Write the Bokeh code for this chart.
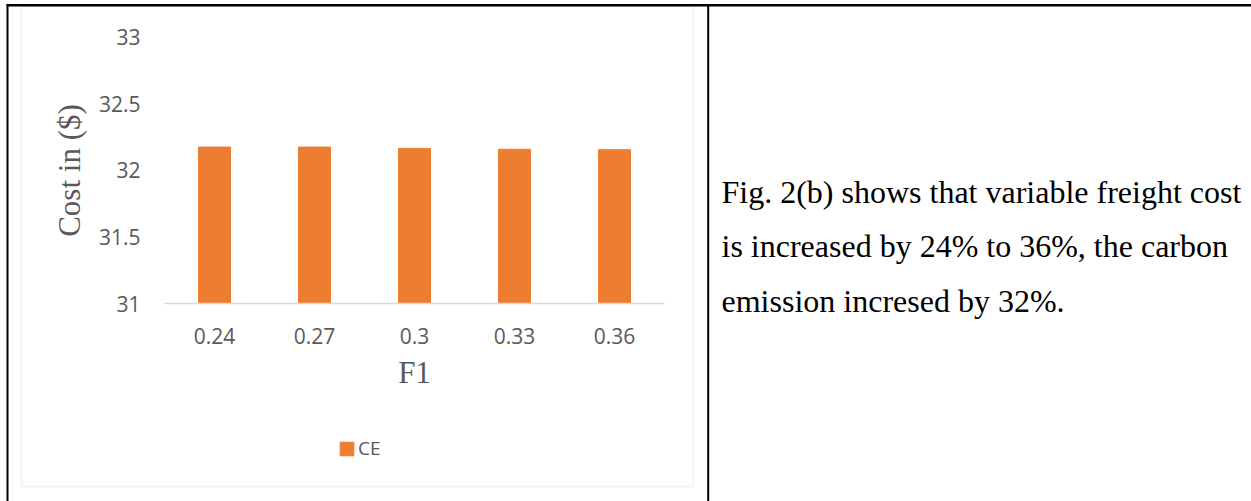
from bokeh.plotting import figure
from bokeh.models import (Range1d, FixedTicker, LinearScale, Legend, LegendItem, Label,
                          BoxAnnotation, ColumnDataSource)
from bokeh.embed import file_html
from bokeh.resources import INLINE

# ---- data ----
categories = ["0.24", "0.27", "0.3", "0.33", "0.36"]
ce_values = [32.175, 32.175, 32.165, 32.158, 32.155]
y_ticks = [31, 31.5, 32, 32.5, 33]
y_tick_labels = ["31", "31.5", "32", "32.5", "33"]
series_name = "CE"
x_title = "F1"
y_title = "Cost in ($)"
text_lines = [
    "Fig. 2(b) shows that variable freight cost",
    "is increased by 24% to 36%, the carbon",
    "emission incresed by 32%.",
]

# ---- layout constants (page pixels) ----
W, H = 1251, 501
PL, PR, PT, PB = 164.0, 664.0, 36.7, 303.0     # plot area on the page
N = len(categories)
y_lo, y_hi = y_ticks[0], y_ticks[-1]
x_per_px = N / (PR - PL)
y_per_px = (y_hi - y_lo) / (PB - PT)

x_pos = [i + 0.5 for i in range(N)]            # category centres

GRAY_TXT = "#595959"
ORANGE = "#ED7D31"

p = figure(width=W, height=H,
           x_range=Range1d(0 - PL * x_per_px, N + (W - PR) * x_per_px),
           y_range=Range1d(y_lo - (H - PB) * y_per_px, y_hi + PT * y_per_px),
           output_backend="svg", toolbar_location=None, min_border=0)
p.extra_x_ranges = {"px": Range1d(0, W)}
p.extra_x_scales = {"px": LinearScale()}
p.extra_y_ranges = {"py": Range1d(H, 0)}
p.extra_y_scales = {"py": LinearScale()}
p.outline_line_color = None
p.background_fill_color = "white"
p.border_fill_color = "white"
p.xgrid.visible = False
p.ygrid.visible = False

src = ColumnDataSource(dict(x=x_pos, top=ce_values, label=categories))
r = p.vbar(x="x", top="top", bottom=y_lo, width=0.32, source=src,
           fill_color=ORANGE, line_color=ORANGE)

# y axis (fixed at the left edge of the plot area)
p.yaxis.fixed_location = 0
p.yaxis.bounds = (y_lo, y_hi)
p.yaxis.ticker = FixedTicker(ticks=y_ticks)
p.yaxis.major_label_overrides = {t: l for t, l in zip(y_ticks, y_tick_labels)}
p.yaxis.axis_line_color = None
p.yaxis.major_tick_in = 0
p.yaxis.major_tick_out = 0
p.yaxis.minor_tick_in = 0
p.yaxis.minor_tick_out = 0
p.yaxis.major_label_standoff = 24
p.yaxis.major_label_text_font = "Open Sans"
p.yaxis.major_label_text_font_size = "21px"
p.yaxis.major_label_text_color = GRAY_TXT
p.yaxis.axis_label = y_title
p.yaxis.axis_label_text_font = "Liberation Serif"
p.yaxis.axis_label_text_font_size = "31px"
p.yaxis.axis_label_text_font_style = "normal"
p.yaxis.axis_label_text_color = GRAY_TXT
p.yaxis.axis_label_standoff = 9

# x axis (fixed at the baseline)
p.xaxis.fixed_location = y_lo
p.xaxis.bounds = (0, N)
p.xaxis.ticker = FixedTicker(ticks=x_pos)
p.xaxis.major_label_overrides = {t: l for t, l in zip(x_pos, categories)}
p.xaxis.axis_line_color = "#D9D9D9"
p.xaxis.axis_line_width = 1.5
p.xaxis.major_tick_in = 0
p.xaxis.major_tick_out = 0
p.xaxis.minor_tick_in = 0
p.xaxis.minor_tick_out = 0
p.xaxis.major_label_standoff = 24
p.xaxis.major_label_text_font = "Open Sans"
p.xaxis.major_label_text_font_size = "21px"
p.xaxis.major_label_text_color = GRAY_TXT
p.xaxis.axis_label = x_title
p.xaxis.axis_label_text_font = "Liberation Serif"
p.xaxis.axis_label_text_font_size = "31px"
p.xaxis.axis_label_text_font_style = "normal"
p.xaxis.axis_label_text_color = GRAY_TXT
p.xaxis.axis_label_standoff = 8

# legend
legend = Legend(items=[LegendItem(label=series_name, renderers=[r])],
                location=(338, 40), orientation="horizontal",
                glyph_width=17, glyph_height=17, label_standoff=3, label_height=17,
                padding=0, margin=0, border_line_color=None, background_fill_alpha=0,
                label_text_font="Open Sans", label_text_font_size="19px",
                label_text_color=GRAY_TXT)
p.add_layout(legend)

# chart frame (light gray)
p.add_layout(BoxAnnotation(left=21, right=693, top=6, bottom=486,
                           x_range_name="px", y_range_name="py",
                           fill_alpha=0, line_color="#D9D9D9", line_width=2, level="underlay"))

# table borders
for (l, rgt, t, b) in [(6, W, 3.5, 6), (6, 8, 3.5, H), (706.7, 708.7, 3.5, H)]:
    p.add_layout(BoxAnnotation(left=l, right=rgt, top=t, bottom=b,
                               x_range_name="px", y_range_name="py",
                               fill_color="black", fill_alpha=1, line_alpha=0))

# right cell text
for i, line in enumerate(text_lines):
    p.add_layout(Label(x=721, y=191 + 54.5 * i, x_range_name="px", y_range_name="py",
                       text=line, text_font="Liberation Serif", text_font_size="32px",
                       text_color="black", text_baseline="alphabetic", text_align="left"))

open("out.html", "w").write(file_html(p, INLINE))
